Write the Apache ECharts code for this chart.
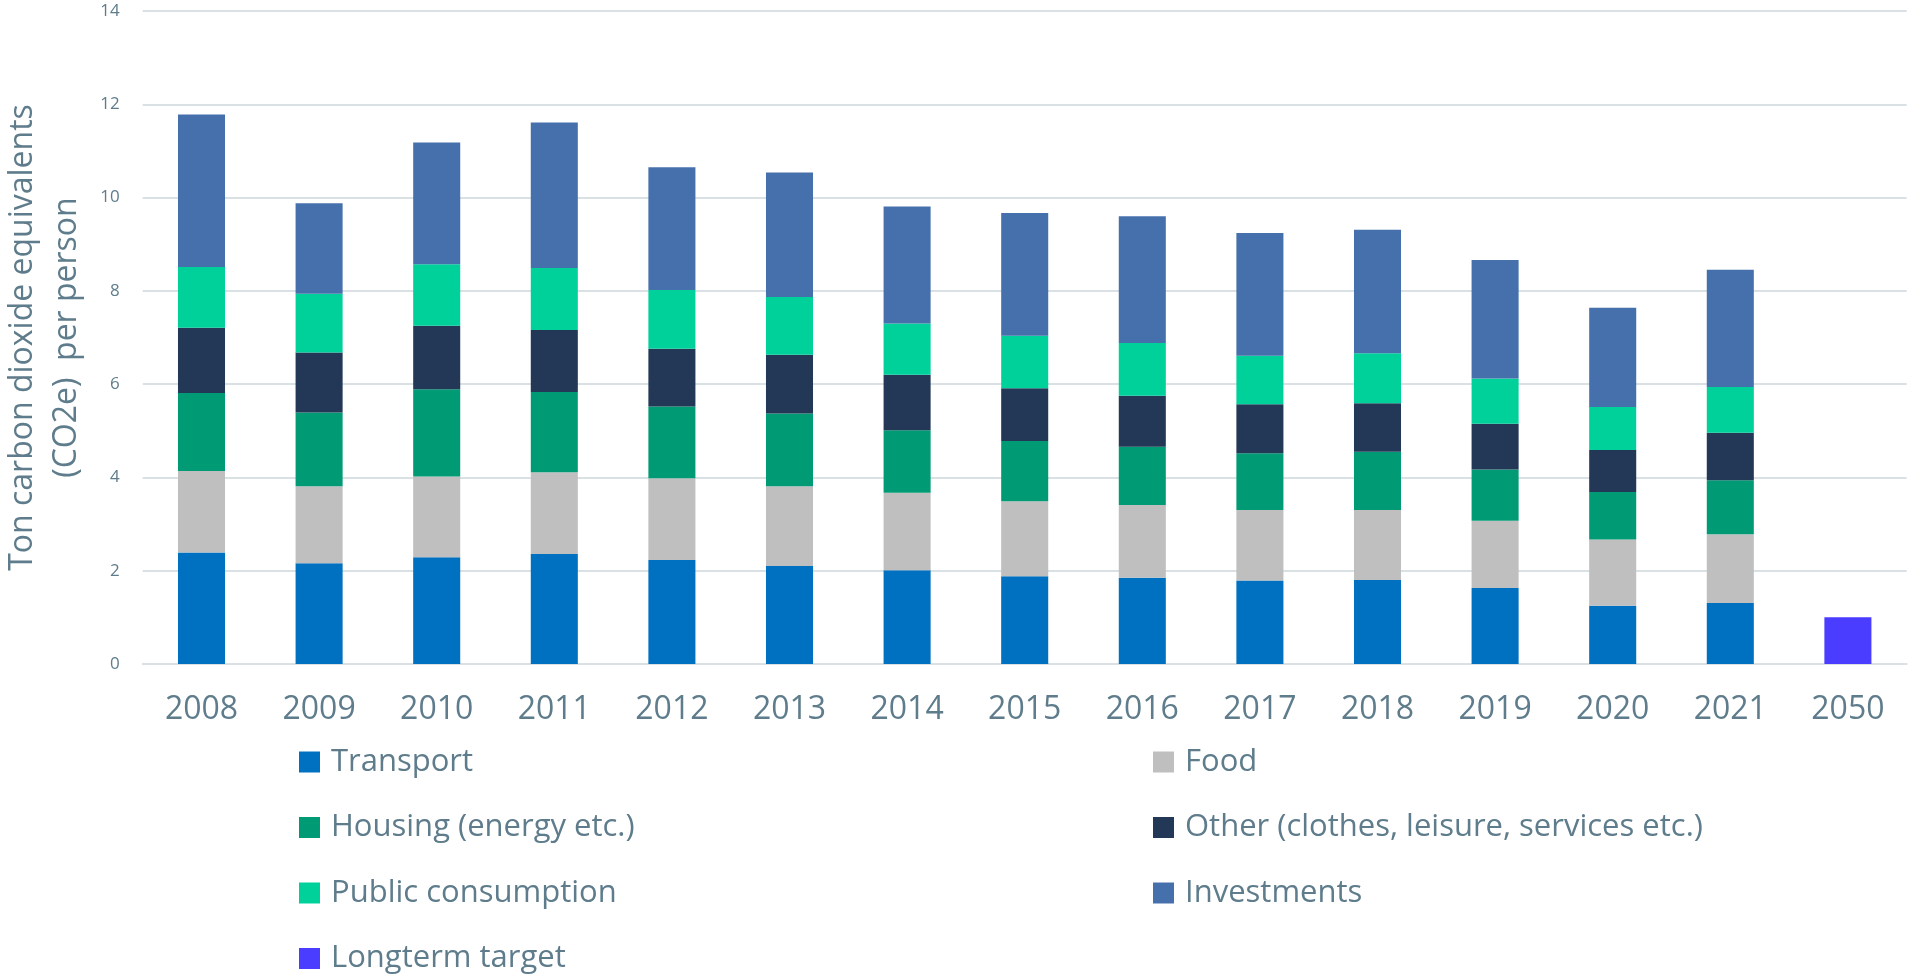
<!DOCTYPE html>
<html>
<head>
<meta charset="utf-8">
<script src="https://cdn.jsdelivr.net/npm/echarts@6/dist/echarts.min.js"></script>
<style>html,body{margin:0;padding:0;background:#fff}#chart{width:1913px;height:977px}</style>
</head>
<body>
<div id="chart"></div>
<script>
const years = ['2008','2009','2010','2011','2012','2013','2014','2015','2016','2017','2018','2019','2020','2021','2050'];
const transport   = [2.39,2.16,2.29,2.36,2.23,2.10,2.01,1.88,1.85,1.79,1.80,1.63,1.25,1.31,'-'];
const food        = [1.75,1.65,1.73,1.75,1.75,1.71,1.66,1.61,1.56,1.51,1.50,1.44,1.42,1.47,'-'];
const housing     = [1.67,1.58,1.87,1.72,1.54,1.56,1.34,1.29,1.25,1.22,1.25,1.10,1.02,1.16,'-'];
const other       = [1.40,1.29,1.36,1.33,1.24,1.26,1.19,1.13,1.09,1.05,1.04,0.98,0.90,1.02,'-'];
const publicCons  = [1.30,1.26,1.32,1.33,1.26,1.24,1.10,1.13,1.13,1.04,1.07,0.97,0.92,0.98,'-'];
const investments = [3.27,1.94,2.61,3.12,2.63,2.67,2.51,2.63,2.72,2.63,2.65,2.54,2.13,2.51,'-'];
const longterm    = ['-','-','-','-','-','-','-','-','-','-','-','-','-','-',1.0];
const yTicks = [0,2,4,6,8,10,12,14];

const names = ['Transport','Food','Housing (energy etc.)','Other (clothes, leisure, services etc.)','Public consumption','Investments','Longterm target'];
const colors = ['#0070C0','#BFBFBF','#009B74','#233757','#00D09A','#4670AC','#4B3DFF'];
const datasets = [transport, food, housing, other, publicCons, investments, longterm];

const textColor = '#5E7C8B';
const font = '"Open Sans", "Noto Sans", sans-serif';

const chart = echarts.init(document.getElementById('chart'), null, {renderer:'canvas'});
const legendCommon = {
  type: 'plain', orient: 'vertical', top: 743, height: 400, itemWidth: 21, itemHeight: 21, itemGap: 27.5,
  icon: 'rect', selectedMode: false, padding: 0,
  textStyle: {fontFamily: font, fontSize: 31, color: textColor, lineHeight: 38, padding: [0,0,0,6]}
};
chart.setOption({
  animation: false,
  color: colors,
  grid: {left: 142.7, right: 6.3, top: 11, bottom: 313, containLabel: false, outerBoundsMode: 'none'},
  legend: [
    Object.assign({left: 299, data: [names[0], names[2], names[4], names[6]]}, legendCommon),
    Object.assign({left: 1153, data: [names[1], names[3], names[5]]}, legendCommon)
  ],
  xAxis: {
    type: 'category', data: years,
    axisLine: {show: true, lineStyle: {color: '#D9E1E5', width: 2}},
    axisTick: {show: false},
    axisLabel: {fontFamily: font, fontSize: 32, color: textColor, margin: 30}
  },
  yAxis: {
    type: 'value', min: yTicks[0], max: yTicks[yTicks.length-1], interval: 2,
    name: 'Ton carbon dioxide equivalents\n(CO2e)  per person',
    nameLocation: 'middle', nameGap: 53, nameRotate: 90,
    nameTextStyle: {fontFamily: font, fontSize: 32, color: textColor, lineHeight: 44, align: 'center'},
    axisLine: {show: false}, axisTick: {show: false},
    axisLabel: {fontFamily: font, fontSize: 17, color: textColor, margin: 23},
    splitLine: {lineStyle: {color: '#D9E1E5', width: 2}}
  },
  series: datasets.map((d, i) => ({
    name: names[i], type: 'bar', stack: 'total', barWidth: '40%',
    data: d, itemStyle: {color: colors[i]}
  }))
});
</script>
</body>
</html>
